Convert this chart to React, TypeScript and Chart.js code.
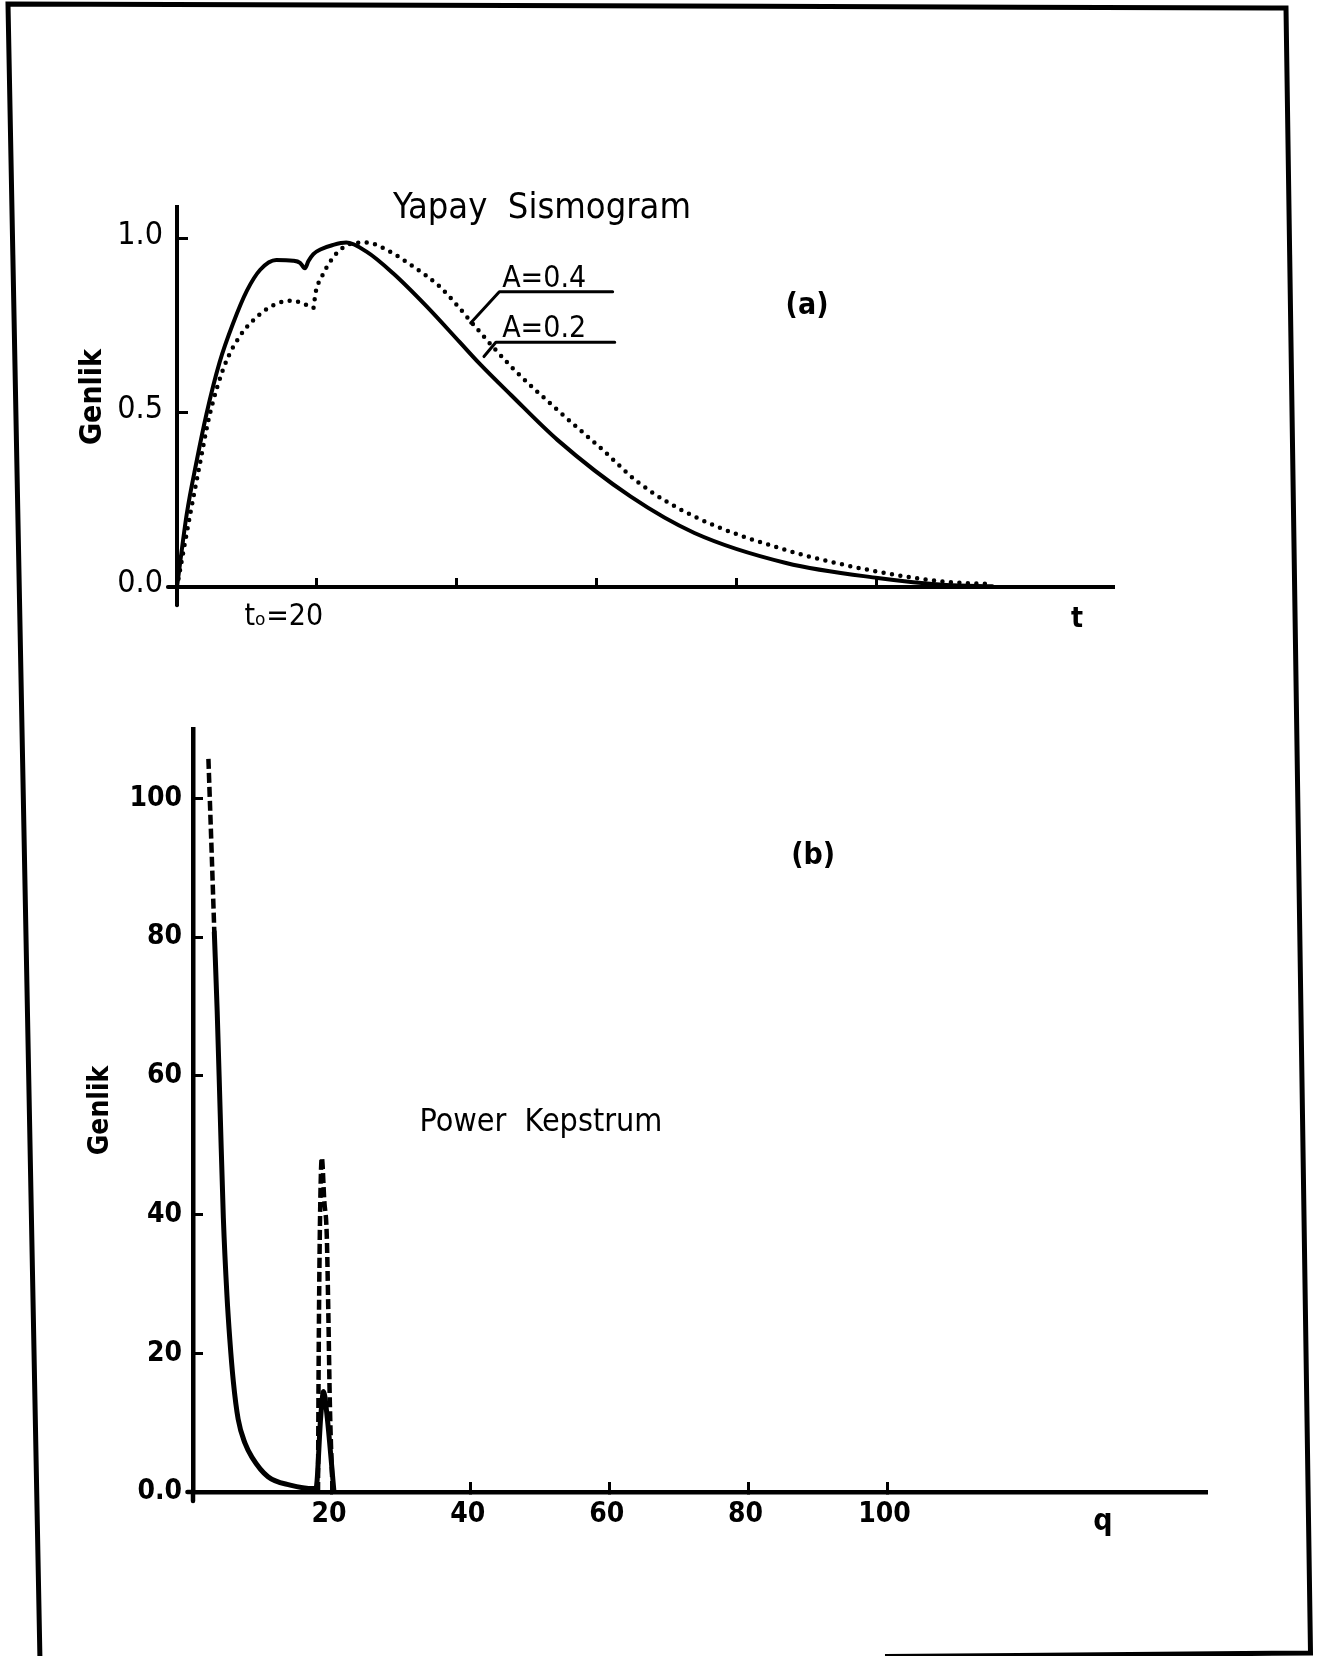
import React, { useEffect, useRef } from 'react';
import { Chart, registerables } from 'chart.js';

Chart.register(...registerables);

const FONT = '"DejaVu Sans Condensed", "DejaVu Sans", sans-serif';

// ---------- Panel (a): Yapay Sismogram ----------
const sismoTimeA02 = [0, 1.4, 2.8, 4.2, 6.1, 8.0, 10.0, 11.9, 14.2, 16.6, 17.6, 18.3, 18.8, 19.5, 20.5, 22.3, 24.2, 27.1, 30.9, 35.7, 40.4, 43.2, 47.8, 54.4, 64.9, 74.0, 87.1, 100.2, 110.0, 116.6];
const sismoAmpA02 = [0, 0.21, 0.36, 0.495, 0.645, 0.755, 0.85, 0.91, 0.938, 0.936, 0.93, 0.914, 0.935, 0.955, 0.968, 0.981, 0.988, 0.962, 0.9, 0.805, 0.703, 0.642, 0.55, 0.422, 0.259, 0.155, 0.069, 0.026, 0.006, 0.002];

const sismoTimeA04 = [0, 1.9, 3.3, 4.5, 5.7, 7.1, 9.0, 10.9, 12.8, 14.7, 16.6, 18.5, 19.5, 19.8, 20.7, 21.9, 23.3, 25.2, 27.1, 30.0, 33.8, 37.6, 40.4, 42.0, 47.8, 54.4, 60.9, 66.1, 74.0, 87.1, 100.2, 110.0, 116.6];
const sismoAmpA04 = [0, 0.21, 0.356, 0.479, 0.57, 0.65, 0.72, 0.765, 0.797, 0.816, 0.821, 0.809, 0.8, 0.843, 0.89, 0.933, 0.967, 0.986, 0.988, 0.967, 0.919, 0.861, 0.8, 0.762, 0.632, 0.508, 0.393, 0.298, 0.202, 0.106, 0.044, 0.015, 0.008];

const sismoXTicks = [20, 40, 60, 80, 100];
const sismoXLabels = ['tₒ=20', '', '', '', ''];
const sismoYTicks = [0, 0.5, 1.0];
const sismoYLabels = ['0.0', '0.5', '1.0'];

// ---------- Panel (b): Power Kepstrum ----------
const kepQA02 = [3.07, 3.48, 3.92, 4.37, 4.89, 5.3, 5.8, 6.5, 7.5, 8.5, 10.8, 14.0, 17.4, 17.7, 18.4, 18.8, 19.3, 20.3];
const kepAmpA02 = [80.7, 69.4, 54.5, 39.5, 28.3, 22, 16, 10.5, 7, 5, 2.2, 1.0, 0.5, 0.5, 11, 14.5, 11, 0];

const kepQA04 = [2.22, 2.7, 3.07, 10, 18.0, 18.1, 18.3, 18.55, 18.9, 19.26, 19.5, 19.7, 20.1];
const kepAmpA04 = [105.7, 91.8, 80.7, null, 0, 20, 40, 48.2, 42, 37, 25, 13, 0];

const kepXTicks = [20, 40, 60, 80, 100];
const kepXLabels = ['20', '40', '60', '80', '100'];
const kepYTicks = [0, 20, 40, 60, 80, 100];
const kepYLabels = ['0.0', '20', '40', '60', '80', '100'];

const zip = (xs: number[], ys: (number | null)[]) => xs.map((x, i) => ({ x, y: ys[i] }));

type TextItem = { text: string; x: number; y: number; font: string; align: CanvasTextAlign; baseline: CanvasTextBaseline };
type LineItem = { pts: [number, number][]; width: number };

function makeAnnotPlugin(id: string, texts: TextItem[], lines: LineItem[]) {
  return {
    id,
    afterDraw(chart: any) {
      const { ctx } = chart;
      const xs = chart.scales.x;
      const ys = chart.scales.y;
      ctx.save();
      ctx.strokeStyle = '#000';
      ctx.fillStyle = '#000';
      ctx.lineCap = 'round';
      ctx.lineJoin = 'round';
      for (const ln of lines) {
        ctx.beginPath();
        ln.pts.forEach(([a, b], i) => {
          const px = xs.getPixelForValue(a);
          const py = ys.getPixelForValue(b);
          if (i === 0) ctx.moveTo(px, py);
          else ctx.lineTo(px, py);
        });
        ctx.lineWidth = ln.width;
        ctx.stroke();
      }
      for (const t of texts) {
        ctx.font = t.font;
        ctx.textAlign = t.align;
        ctx.textBaseline = t.baseline;
        ctx.fillText(t.text, xs.getPixelForValue(t.x), ys.getPixelForValue(t.y));
      }
      ctx.restore();
    },
  };
}

const sismoTexts: TextItem[] = [
  { text: 'Yapay  Sismogram', x: 30.9, y: 1.059, font: `36px ${FONT}`, align: 'left', baseline: 'alphabetic' },
  { text: '(a)', x: 90.1, y: 0.806, font: `bold 30px ${FONT}`, align: 'center', baseline: 'middle' },
  { text: 'A=0.4', x: 46.5, y: 0.861, font: `30px ${FONT}`, align: 'left', baseline: 'alphabetic' },
  { text: 'A=0.2', x: 46.5, y: 0.717, font: `30px ${FONT}`, align: 'left', baseline: 'alphabetic' },
  { text: 't', x: 128.7, y: -0.095, font: `bold 28px ${FONT}`, align: 'center', baseline: 'middle' },
];
const sismoLines: LineItem[] = [
  { pts: [[42.0, 0.757], [46.1, 0.847], [62.3, 0.847]], width: 3 },
  { pts: [[43.9, 0.661], [45.6, 0.702], [62.6, 0.702]], width: 3 },
  // small overhangs of the hand-drawn axes past the origin
  { pts: [[0, 0], [0, -0.052]], width: 4 },
  { pts: [[0, 0], [-1.3, 0]], width: 4 },
];

const kepTexts: TextItem[] = [
  { text: '(b)', x: 89.3, y: 91.6, font: `bold 30px ${FONT}`, align: 'center', baseline: 'middle' },
  { text: 'Power  Kepstrum', x: 32.6, y: 52.1, font: `32px ${FONT}`, align: 'left', baseline: 'alphabetic' },
  { text: 'q', x: 131, y: -4.3, font: `bold 30px ${FONT}`, align: 'center', baseline: 'middle' },
];
const kepLines: LineItem[] = [
  { pts: [[0, 0], [0, -1.3]], width: 4.5 },
  { pts: [[0, 0], [-0.8, 0]], width: 4.5 },
];

function axisGrid(tickLength: number) {
  return { display: true, drawOnChartArea: false, drawTicks: true, tickLength, tickColor: '#000', tickWidth: 3 };
}

export default function App() {
  const topRef = useRef<HTMLCanvasElement>(null);
  const botRef = useRef<HTMLCanvasElement>(null);

  useEffect(() => {
    const top = new Chart(topRef.current as HTMLCanvasElement, {
      type: 'line',
      data: {
        datasets: [
          {
            label: 'A=0.2',
            data: zip(sismoTimeA02, sismoAmpA02),
            borderColor: '#000',
            borderWidth: 4,
            pointRadius: 0,
            cubicInterpolationMode: 'monotone',
            borderCapStyle: 'round',
            borderJoinStyle: 'round',
            fill: false,
          },
          {
            label: 'A=0.4',
            data: zip(sismoTimeA04, sismoAmpA04),
            borderColor: '#000',
            borderWidth: 4.5,
            borderDash: [0, 8.5],
            borderCapStyle: 'round',
            pointRadius: 0,
            cubicInterpolationMode: 'monotone',
            fill: false,
          },
        ],
      } as any,
      options: {
        responsive: false,
        animation: false,
        devicePixelRatio: 1,
        events: [],
        layout: { padding: { left: 70, right: 207, top: 67, bottom: 23 } },
        plugins: { legend: { display: false }, tooltip: { enabled: false } },
        scales: {
          x: {
            type: 'linear',
            min: 0,
            max: 134,
            afterBuildTicks: (s: any) => { s.ticks = sismoXTicks.map((v) => ({ value: v })); },
            afterFit: (s: any) => { s.height = 50; },
            grid: axisGrid(-9),
            border: { display: true, color: '#000', width: 4 },
            ticks: {
              color: '#000',
              font: { family: FONT, size: 30 },
              padding: 21,
              labelOffset: -33,
              maxRotation: 0,
              autoSkip: false,
              callback: (_v: any, i: number) => sismoXLabels[i],
            },
          },
          y: {
            type: 'linear',
            min: 0,
            max: 1.09,
            afterBuildTicks: (s: any) => { s.ticks = sismoYTicks.map((v) => ({ value: v })); },
            afterFit: (s: any) => { s.width = 107; },
            grid: axisGrid(-11),
            border: { display: true, color: '#000', width: 4 },
            ticks: {
              color: '#000',
              font: { family: FONT, size: 32 },
              padding: 25,
              labelOffset: -3,
              autoSkip: false,
              callback: (_v: any, i: number) => sismoYLabels[i],
            },
            title: { display: true, text: 'Genlik', color: '#000', font: { family: FONT, size: 30, weight: 'bold' }, padding: { top: 5, bottom: 0 } },
          },
        },
      } as any,
      plugins: [makeAnnotPlugin('sismoAnnot', sismoTexts, sismoLines)],
    });

    const bot = new Chart(botRef.current as HTMLCanvasElement, {
      type: 'line',
      data: {
        datasets: [
          {
            label: 'A=0.2',
            data: zip(kepQA02, kepAmpA02),
            borderColor: '#000',
            borderWidth: 5,
            pointRadius: 0,
            cubicInterpolationMode: 'monotone',
            borderCapStyle: 'round',
            borderJoinStyle: 'round',
            fill: false,
          },
          {
            label: 'A=0.4',
            data: zip(kepQA04, kepAmpA04),
            borderColor: '#000',
            borderWidth: 4.5,
            borderDash: [10, 4],
            pointRadius: 0,
            cubicInterpolationMode: 'monotone',
            spanGaps: false,
            fill: false,
          },
        ],
      } as any,
      options: {
        responsive: false,
        animation: false,
        devicePixelRatio: 1,
        events: [],
        layout: { padding: { left: 70, right: 114, top: 49, bottom: 38 } },
        plugins: { legend: { display: false }, tooltip: { enabled: false } },
        scales: {
          x: {
            type: 'linear',
            min: 0,
            max: 146,
            afterBuildTicks: (s: any) => { s.ticks = kepXTicks.map((v) => ({ value: v })); },
            afterFit: (s: any) => { s.height = 50; },
            grid: axisGrid(-10),
            border: { display: true, color: '#000', width: 4.5 },
            ticks: {
              color: '#000',
              font: { family: FONT, size: 28, weight: 'bold' },
              padding: 16,
              labelOffset: -3,
              maxRotation: 0,
              autoSkip: false,
              callback: (_v: any, i: number) => kepXLabels[i],
            },
          },
          y: {
            type: 'linear',
            min: 0,
            max: 110,
            afterBuildTicks: (s: any) => { s.ticks = kepYTicks.map((v) => ({ value: v })); },
            afterFit: (s: any) => { s.width = 123; },
            grid: axisGrid(-10),
            border: { display: true, color: '#000', width: 4.5 },
            ticks: {
              color: '#000',
              font: { family: FONT, size: 28, weight: 'bold' },
              padding: 21,
              autoSkip: false,
              callback: (_v: any, i: number) => kepYLabels[i],
            },
            title: { display: true, text: 'Genlik', color: '#000', font: { family: FONT, size: 28, weight: 'bold' }, padding: { top: 14, bottom: 0 } },
          },
        },
      } as any,
      plugins: [makeAnnotPlugin('kepAnnot', kepTexts, kepLines)],
    });

    return () => {
      top.destroy();
      bot.destroy();
    };
  }, []);

  return (
    <div style={{ position: 'absolute', left: 0, top: 0, width: 1321, height: 1656, background: '#fff', overflow: 'hidden' }}>
      <svg width={1321} height={1656} style={{ position: 'absolute', left: 0, top: 0 }}>
        <path d="M 40,1662 L 8,4 L 1286,8 L 1310.5,1653 L 885,1656.5" fill="none" stroke="#000" strokeWidth={5} strokeLinejoin="miter" />
      </svg>
      <canvas ref={topRef} width={1321} height={520} style={{ position: 'absolute', left: 0, top: 140 }} />
      <canvas ref={botRef} width={1321} height={900} style={{ position: 'absolute', left: 0, top: 680 }} />
    </div>
  );
}
